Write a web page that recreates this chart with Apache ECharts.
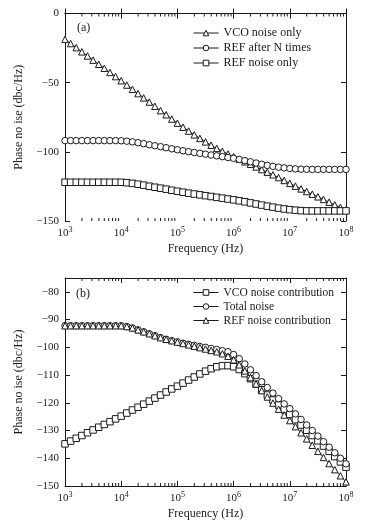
<!DOCTYPE html>
<html>
<head>
<meta charset="utf-8">
<script src="https://cdn.jsdelivr.net/npm/echarts@6/dist/echarts.min.js"></script>
<style>
html, body { margin: 0; padding: 0; background: #fff; }
#main { width: 378px; height: 530px; }
</style>
</head>
<body>
<div id="main"></div>
<script>
// frequency points, as powers of ten (Hz)
var freqExp = [3.0,3.1,3.2,3.3,3.4,3.5,3.6,3.7,3.8,3.9,
  4.0,4.1,4.2,4.3,4.4,4.5,4.6,4.7,4.8,4.9,
  5.0,5.1,5.2,5.3,5.4,5.5,5.6,5.7,5.8,5.9,
  6.0,6.1,6.2,6.3,6.4,6.5,6.6,6.7,6.8,6.9,
  7.0,7.1,7.2,7.3,7.4,7.5,7.6,7.7,7.8,7.9,8.0];

// (a)
var vcoOnly = [-18.7,-21.7,-24.7,-27.7,-30.7,-33.7,-36.7,-39.6,-42.6,-45.6,
  -48.6,-51.7,-54.8,-57.9,-61.0,-64.0,-67.1,-70.2,-73.2,-76.3,
  -79.3,-82.2,-85.0,-87.7,-90.3,-92.8,-95.2,-97.5,-99.6,-101.6,
  -103.5,-105.4,-107.2,-109.0,-110.9,-112.8,-114.7,-116.6,-118.6,-120.7,
  -122.8,-124.8,-126.8,-128.7,-130.6,-132.5,-134.4,-136.4,-138.3,-140.2,-142.1];
var refAfterN = [-91.9,-91.9,-91.9,-91.9,-91.9,-91.9,-91.9,-91.9,-91.9,-91.9,
  -92.0,-92.3,-92.8,-93.4,-94.1,-94.9,-95.6,-96.3,-97.0,-97.8,
  -98.5,-99.2,-99.9,-100.5,-101.1,-101.7,-102.3,-102.9,-103.5,-104.1,
  -104.7,-105.5,-106.3,-107.2,-108.1,-109.0,-109.8,-110.5,-111.1,-111.6,
  -112.0,-112.3,-112.5,-112.6,-112.7,-112.7,-112.7,-112.7,-112.7,-112.7,-112.7];
var refOnly = [-122.0,-122.0,-122.0,-122.0,-122.0,-122.0,-122.0,-122.0,-122.0,-122.0,
  -122.0,-122.3,-122.8,-123.4,-124.1,-124.9,-125.6,-126.3,-127.0,-127.8,
  -128.5,-129.2,-129.9,-130.5,-131.1,-131.7,-132.3,-132.9,-133.5,-134.1,
  -134.7,-135.4,-136.1,-136.9,-137.7,-138.5,-139.3,-140.0,-140.7,-141.3,
  -141.8,-142.2,-142.5,-142.7,-142.7,-142.7,-142.7,-142.7,-142.7,-142.7,-142.7];

// (b)
var vcoContrib = [-134.8,-133.8,-132.8,-131.8,-130.8,-129.8,-128.8,-127.8,-126.8,-125.8,
  -124.8,-123.7,-122.6,-121.6,-120.5,-119.4,-118.3,-117.2,-116.1,-115.0,
  -114.0,-112.9,-111.8,-110.7,-109.6,-108.6,-107.7,-107.0,-106.6,-106.6,
  -107.0,-108.0,-109.5,-111.3,-113.3,-115.3,-117.2,-119.0,-120.8,-122.5,
  -124.2,-126.1,-128.0,-129.9,-131.8,-133.7,-135.6,-137.5,-139.4,-141.3,-143.2];
var totalNoise = [-92.2,-92.2,-92.2,-92.2,-92.2,-92.2,-92.2,-92.2,-92.2,-92.2,
  -92.2,-92.5,-93.0,-93.7,-94.4,-95.1,-95.8,-96.5,-97.1,-97.6,
  -98.0,-98.5,-98.9,-99.3,-99.7,-100.0,-100.4,-100.8,-101.2,-101.6,
  -102.6,-104.1,-106.0,-108.1,-110.2,-112.4,-114.5,-116.5,-118.5,-120.4,
  -122.1,-124.0,-126.0,-128.0,-130.0,-132.0,-134.0,-136.0,-138.0,-140.0,-142.0];
var refContrib = [-92.2,-92.2,-92.2,-92.2,-92.2,-92.2,-92.2,-92.2,-92.2,-92.2,
  -92.2,-92.5,-93.0,-93.7,-94.4,-95.1,-95.8,-96.5,-97.1,-97.6,
  -98.1,-98.6,-99.1,-99.6,-100.1,-100.6,-101.1,-101.6,-102.3,-103.2,
  -104.5,-106.3,-108.5,-110.9,-113.2,-115.6,-117.9,-120.1,-122.3,-124.4,
  -126.4,-128.6,-130.8,-133.0,-135.3,-137.5,-139.7,-141.9,-144.1,-146.3,-148.5];

// decades holding minor log ticks, and the 2..9 multipliers
var minorDecades = [3, 4, 5, 6, 7];
var minorMult = [2, 3, 4, 5, 6, 7, 8, 9];

var serif = "'Liberation Serif', 'Times New Roman', 'DejaVu Serif', serif";
var ink = '#1a1a1a';

var minorFreqs = [];
minorDecades.forEach(function (d) {
  minorMult.forEach(function (m) { minorFreqs.push(m * Math.pow(10, d)); });
});

function pairs(vals) {
  return freqExp.map(function (e, i) { return [Math.pow(10, e), vals[i]]; });
}

function xAxisOf(grid, pos) {
  var bottom = pos === 'bottom';
  return {
    type: 'log', logBase: 10, gridIndex: grid, position: pos,
    min: 1e3, max: 1e8,
    axisLine: { show: true, lineStyle: { color: ink, width: 1 } },
    axisTick: { show: true, inside: true, length: 5, lineStyle: { color: ink } },
    splitLine: { show: false },
    axisLabel: {
      show: bottom, margin: 5, color: ink, fontFamily: serif,
      formatter: function (v) {
        return '{b|10}{s|' + Math.round(Math.log10(v)) + '}';
      },
      rich: {
        b: { fontSize: 11, fontFamily: serif, color: ink, lineHeight: 14 },
        s: { fontSize: 8, fontFamily: serif, color: ink, verticalAlign: 'top', lineHeight: 8 }
      }
    },
    name: bottom ? 'Frequency (Hz)' : '',
    nameLocation: 'middle', nameGap: 22,
    nameTextStyle: { fontFamily: serif, fontSize: 12, color: ink }
  };
}

function yAxisOf(grid, pos, min, max, interval) {
  var left = pos === 'left';
  return {
    type: 'value', gridIndex: grid, position: pos,
    min: min, max: max, interval: interval,
    axisLine: { show: true, lineStyle: { color: ink, width: 1 } },
    axisTick: { show: true, inside: true, length: 5, lineStyle: { color: ink } },
    splitLine: { show: false },
    axisLabel: {
      show: left, margin: 6, fontFamily: serif, fontSize: 11, color: ink,
      showMaxLabel: max % interval === 0,
      formatter: function (v) { return String(v).replace('-', '\u2212'); }
    },
    name: left ? 'Phase no ise (dbc/Hz)' : '',
    nameLocation: 'middle', nameGap: 40,
    nameTextStyle: { fontFamily: serif, fontSize: 12, color: ink }
  };
}

function lineSeries(name, vals, symbol, xi, yi) {
  return {
    name: name, type: 'line', xAxisIndex: xi, yAxisIndex: yi,
    data: pairs(vals),
    symbol: symbol, symbolSize: 6.5, showAllSymbol: true,
    lineStyle: { color: ink, width: 1 },
    itemStyle: { color: '#fff', borderColor: ink, borderWidth: 1 },
    emphasis: { disabled: true }
  };
}

function minorTickSeries(xi, yi, ymin, ymax) {
  return {
    type: 'custom', xAxisIndex: xi, yAxisIndex: yi, silent: true,
    data: minorFreqs.map(function (f) { return [f, ymin]; }),
    renderItem: function (params, api) {
      var f = api.value(0);
      var b = api.coord([f, ymin]);
      var t = api.coord([f, ymax]);
      var st = { stroke: ink, lineWidth: 1 };
      return {
        type: 'group',
        children: [
          { type: 'line', shape: { x1: b[0], y1: b[1], x2: b[0], y2: b[1] - 3 }, style: st },
          { type: 'line', shape: { x1: t[0], y1: t[1], x2: t[0], y2: t[1] + 3 }, style: st }
        ]
      };
    }
  };
}

function legendOf(names, top, fs, lh) {
  return {
    data: names, orient: 'vertical', left: 193, top: top, padding: 0,
    itemWidth: 25, itemHeight: 7, itemGap: 1,
    selectedMode: false,
    lineStyle: { width: 1, color: ink },
    itemStyle: { color: '#fff', borderColor: ink, borderWidth: 1 },
    textStyle: { fontFamily: serif, fontSize: fs, color: ink, lineHeight: lh }
  };
}

var chart = echarts.init(document.getElementById('main'));

var option = {
  animation: false,
  backgroundColor: '#fff',
  grid: [
    { left: 65, top: 13.5, width: 281, height: 207.5 },
    { left: 65, top: 278, width: 281, height: 208 }
  ],
  xAxis: [
    xAxisOf(0, 'bottom'), xAxisOf(0, 'top'),
    xAxisOf(1, 'bottom'), xAxisOf(1, 'top')
  ],
  yAxis: [
    yAxisOf(0, 'left', -150, 0, 50), yAxisOf(0, 'right', -150, 0, 50),
    yAxisOf(1, 'left', -150, -75, 10), yAxisOf(1, 'right', -150, -75, 10)
  ],
  legend: [
    legendOf(['VCO noise only', 'REF after N times', 'REF noise only'], 26, 12, 14),
    legendOf(['VCO noise contribution', 'Total noise', 'REF noise contribution'], 286, 11.5, 13)
  ],
  graphic: [
    { type: 'text', left: 77, top: 22, style: { text: '(a)', font: '12px ' + serif, fill: ink } },
    { type: 'text', left: 76, top: 288, style: { text: '(b)', font: '12px ' + serif, fill: ink } }
  ],
  series: [
    minorTickSeries(0, 0, -150, 0),
    lineSeries('VCO noise only', vcoOnly, 'triangle', 0, 0),
    lineSeries('REF after N times', refAfterN, 'circle', 0, 0),
    lineSeries('REF noise only', refOnly, 'rect', 0, 0),
    minorTickSeries(2, 2, -150, -75),
    lineSeries('VCO noise contribution', vcoContrib, 'rect', 2, 2),
    lineSeries('Total noise', totalNoise, 'circle', 2, 2),
    lineSeries('REF noise contribution', refContrib, 'triangle', 2, 2)
  ]
};

chart.setOption(option);
</script>
</body>
</html>
